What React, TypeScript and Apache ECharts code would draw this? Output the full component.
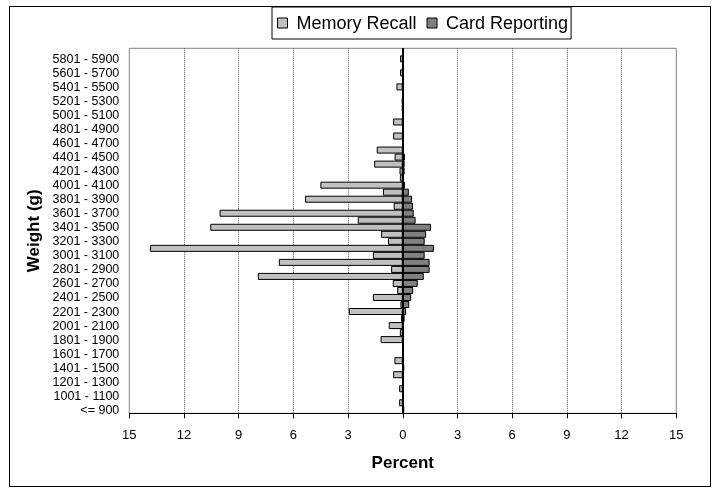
import React, { useEffect, useRef } from "react";
import * as echarts from "echarts";

const categories = [
  "<= 900", "901 - 1000", "1001 - 1100", "1101 - 1200", "1201 - 1300", "1301 - 1400",
  "1401 - 1500", "1501 - 1600", "1601 - 1700", "1701 - 1800", "1801 - 1900", "1901 - 2000",
  "2001 - 2100", "2101 - 2200", "2201 - 2300", "2301 - 2400", "2401 - 2500", "2501 - 2600",
  "2601 - 2700", "2701 - 2800", "2801 - 2900", "2901 - 3000", "3001 - 3100", "3101 - 3200",
  "3201 - 3300", "3301 - 3400", "3401 - 3500", "3501 - 3600", "3601 - 3700", "3701 - 3800",
  "3801 - 3900", "3901 - 4000", "4001 - 4100", "4101 - 4200", "4201 - 4300", "4301 - 4400",
  "4401 - 4500", "4501 - 4600", "4601 - 4700", "4701 - 4800", "4801 - 4900", "4901 - 5000",
  "5001 - 5100", "5101 - 5200", "5201 - 5300", "5301 - 5400", "5401 - 5500", "5501 - 5600",
  "5601 - 5700", "5701 - 5800", "5801 - 5900", "5901 - 6000",
];

// Percent of births, Memory Recall (plotted to the left)
const memoryRecall = [
  0, 0.2, 0, 0.2, 0, 0.53, 0, 0.46, 0, 0,
  1.22, 0.16, 0.77, 0.1, 2.96, 0.13, 1.64, 0.31, 0.55, 7.95,
  0.64, 6.8, 1.64, 13.86, 0.81, 1.19, 10.56, 2.47, 10.05, 0.5,
  5.36, 1.09, 4.52, 0.16, 0.18, 1.57, 0.45, 1.43, 0, 0.53,
  0, 0.53, 0, 0.05, 0.05, 0, 0.35, 0, 0.15, 0,
  0.15, 0,
];

// Percent of births, Card Reporting (plotted to the right)
const cardReporting = [
  0.08, 0, 0, 0, 0, 0, 0.08, 0.05, 0, 0,
  0.05, 0, 0.05, 0.1, 0.18, 0.35, 0.46, 0.57, 0.82, 1.15,
  1.47, 1.47, 1.2, 1.71, 1.2, 1.28, 1.55, 0.7, 0.6, 0.56,
  0.51, 0.33, 0.12, 0.05, 0.1, 0.1, 0.12, 0, 0, 0,
  0, 0, 0, 0, 0, 0, 0, 0, 0, 0,
  0, 0,
];

const xTicks = { min: -15, max: 15, interval: 3 };

export default function App() {
  const ref = useRef<HTMLDivElement>(null);

  useEffect(() => {
    if (!ref.current) return;
    const chart = echarts.init(ref.current, undefined, { renderer: "svg" });
    const font = "Arial, 'Liberation Sans', sans-serif";
    chart.setOption({
      animation: false,
      textStyle: { fontFamily: font, color: "#000" },
      graphic: [
        {
          type: "rect",
          silent: true,
          z: -10,
          shape: { x: 9.5, y: 6.5, width: 701, height: 480 },
          style: { fill: "#fff", stroke: "#000", lineWidth: 1 },
        },
      ],
      legend: {
        data: ["Memory Recall", "Card Reporting"],
        left: 272,
        top: 7,
        padding: [7, 3, 7, 5],
        itemGap: 10,
        itemWidth: 10,
        itemHeight: 10,
        icon: "rect",
        borderColor: "#000",
        borderWidth: 1,
        backgroundColor: "#fff",
        itemStyle: { borderColor: "#000", borderWidth: 1 },
        textStyle: { fontSize: 18, color: "#000", fontFamily: font, padding: [0, 0, 0, 4] },
      },
      grid: {
        left: 129.3,
        right: 41.7,
        top: 48.3,
        bottom: 75.7,
        show: true,
        borderColor: "#808080",
        borderWidth: 1,
        backgroundColor: "transparent",
        containLabel: false,
      },
      xAxis: {
        type: "value",
        min: xTicks.min,
        max: xTicks.max,
        interval: xTicks.interval,
        axisLine: { show: true, onZero: false, lineStyle: { color: "#000", width: 1 } },
        axisTick: { show: true, length: 5, lineStyle: { color: "#000" } },
        axisLabel: {
          formatter: (v: number) => String(Math.abs(v)),
          color: "#000",
          fontSize: 13,
          margin: 15,
          fontFamily: font,
        },
        splitLine: {
          show: true,
          showMinLine: false,
          showMaxLine: false,
          lineStyle: { type: "dotted", color: "#555", width: 1 },
        },
        name: "Percent",
        nameLocation: "middle",
        nameGap: 41,
        nameTextStyle: { fontWeight: "bold", fontSize: 17, color: "#000", fontFamily: font },
      },
      yAxis: {
        type: "category",
        data: categories,
        axisLine: { show: false },
        axisTick: { show: false },
        axisLabel: { interval: 1, margin: 10, fontSize: 12.5, color: "#000", fontFamily: font },
        name: "Weight (g)",
        nameLocation: "middle",
        nameRotate: 90,
        nameGap: 84,
        nameTextStyle: { fontWeight: "bold", fontSize: 17, color: "#000", fontFamily: font },
      },
      series: [
        {
          name: "Memory Recall",
          type: "bar",
          data: memoryRecall.map((v) => -v),
          barGap: "-100%",
          barCategoryGap: 0,
          itemStyle: { color: "#c0c0c0", borderColor: "#000", borderWidth: 1 },
        },
        {
          name: "Card Reporting",
          type: "bar",
          data: cardReporting,
          barGap: "-100%",
          barCategoryGap: 0,
          itemStyle: { color: "#808080", borderColor: "#000", borderWidth: 1 },
          markLine: {
            silent: true,
            symbol: ["none", "none"],
            label: { show: false },
            lineStyle: { color: "#000", type: "solid", width: 2 },
            data: [{ xAxis: 0 }],
          },
        },
      ],
    });
    return () => chart.dispose();
  }, []);

  return (
    <div
      ref={ref}
      style={{ position: "fixed", left: 0, top: 0, width: 718, height: 489 }}
    />
  );
}
